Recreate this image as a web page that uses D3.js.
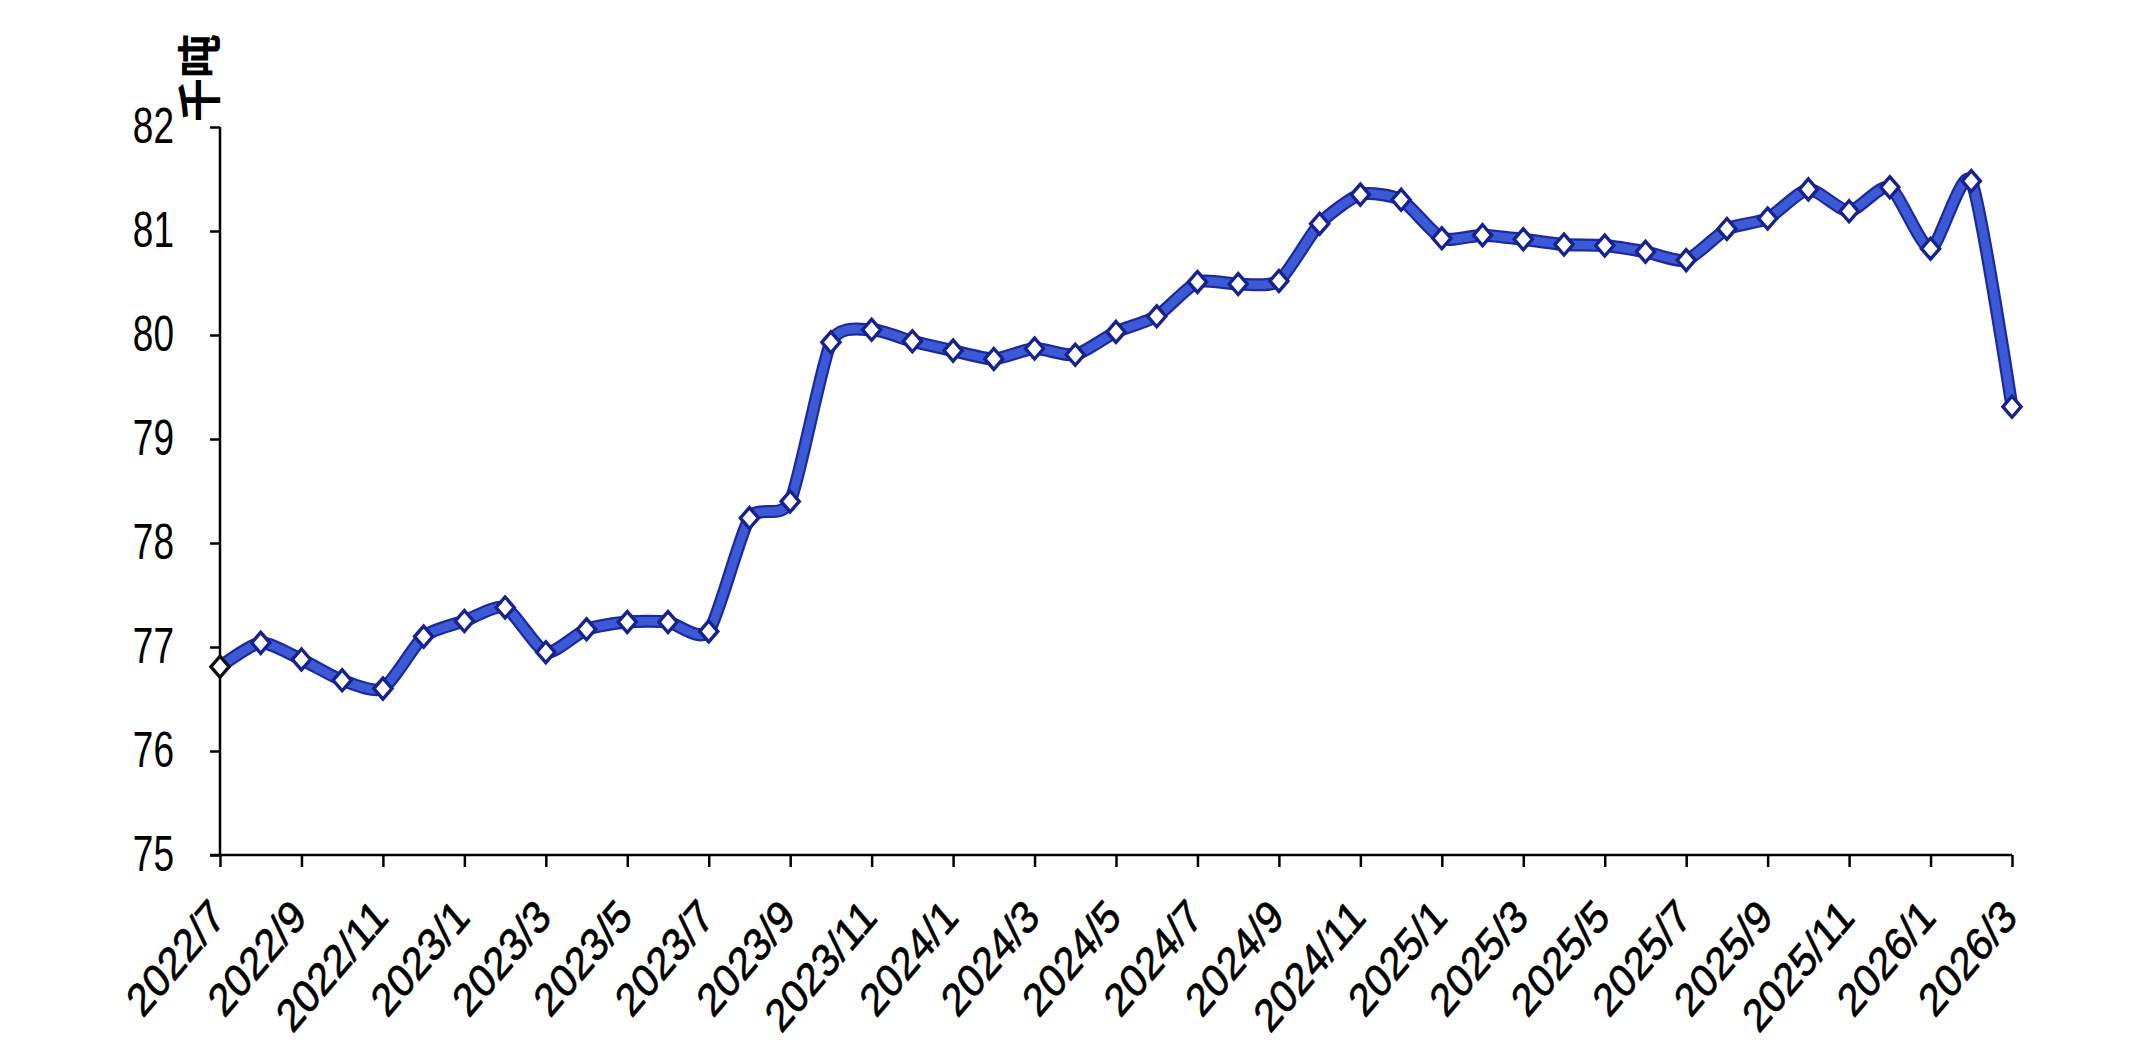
<!DOCTYPE html>
<html>
<head>
<meta charset="utf-8">
<script src="https://cdn.jsdelivr.net/npm/d3@7"></script>
<style>
  html, body { margin: 0; padding: 0; background: #ffffff; }
  svg { display: block; }
</style>
</head>
<body>
<svg id="chart" width="2150" height="1064"></svg>
<script>
// ---- data ----
const months = [
  "2022/7","2022/8","2022/9","2022/10","2022/11","2022/12",
  "2023/1","2023/2","2023/3","2023/4","2023/5","2023/6","2023/7","2023/8","2023/9","2023/10","2023/11","2023/12",
  "2024/1","2024/2","2024/3","2024/4","2024/5","2024/6","2024/7","2024/8","2024/9","2024/10","2024/11","2024/12",
  "2025/1","2025/2","2025/3","2025/4","2025/5","2025/6","2025/7","2025/8","2025/9","2025/10","2025/11","2025/12",
  "2026/1","2026/2","2026/3"
];
const values = [
  76.81, 77.04, 76.88, 76.68, 76.60, 77.10,
  77.25, 77.38, 76.95, 77.17, 77.24, 77.24, 77.15, 78.24, 78.40, 79.93, 80.05, 79.94,
  79.85, 79.77, 79.87, 79.81, 80.03, 80.18, 80.51, 80.49, 80.52, 81.07, 81.35, 81.30,
  80.93, 80.96, 80.92, 80.87, 80.86, 80.80, 80.72, 81.02, 81.12, 81.40, 81.19, 81.42,
  80.83, 81.48, 79.31
];
const xTickLabels = months.filter((m, i) => i % 2 === 0);
const yTicks = [75, 76, 77, 78, 79, 80, 81, 82];
const yDomain = [75, 82];
const unitLabel = "千吨";

// ---- layout ----
const svg = d3.select("#chart");
const mLeft = 220, mRight = 2012, mTop = 127, mBottom = 855;

const x = d3.scalePoint().domain(months).range([mLeft, mRight]);
const y = d3.scaleLinear().domain(yDomain).range([mBottom, mTop]);

const latin = "'Liberation Sans', Arial, sans-serif";

// y axis
const yAxis = svg.append("g")
  .attr("transform", `translate(${mLeft},0)`)
  .call(d3.axisLeft(y).tickValues(yTicks).tickSize(10).tickPadding(36).tickFormat(d3.format("d")));
yAxis.select(".domain").attr("stroke", "#000").attr("stroke-width", 2.5).attr("d", `M0,${mTop}V${mBottom}`);
yAxis.selectAll(".tick line").attr("stroke", "#000").attr("stroke-width", 2.5);
yAxis.selectAll(".tick text")
  .attr("fill", "#000")
  .style("font-family", latin)
  .style("font-size", "37px")
  .attr("transform", "scale(1,1.35)");

// x axis
const xAxis = svg.append("g")
  .attr("transform", `translate(0,${mBottom})`)
  .call(d3.axisBottom(x).tickValues(xTickLabels).tickSize(12));
xAxis.select(".domain").attr("stroke", "#000").attr("stroke-width", 2.5).attr("d", `M${mLeft - 10},0H${mRight}`);
xAxis.selectAll(".tick line").attr("stroke", "#000").attr("stroke-width", 2.5);
xAxis.selectAll(".tick text")
  .attr("fill", "#000")
  .attr("x", 0).attr("y", 0).attr("dy", "0.35em")
  .attr("text-anchor", "end")
  .style("font-family", latin)
  .style("font-size", "39px")
  .style("stroke", "#000")
  .style("stroke-width", 0.6)
  .attr("transform", "translate(-3,53) scale(1,1.18) rotate(-45)");

// unit label
svg.append("text")
  .attr("transform", "translate(197,78) rotate(-90)")
  .attr("text-anchor", "middle")
  .attr("dominant-baseline", "central")
  .style("font-family", "'Noto Sans CJK SC', sans-serif")
  .style("font-weight", "bold")
  .style("font-size", "44px")
  .attr("fill", "#000")
  .text(unitLabel);

// line
const data = months.map((m, i) => ({ m, v: values[i] }));
const line = d3.line()
  .x(d => x(d.m))
  .y(d => y(d.v))
  .curve(d3.curveCardinal.tension(0.35));

svg.append("path")
  .datum(data)
  .attr("d", line)
  .attr("fill", "none")
  .attr("stroke", "#1b2a9e")
  .attr("stroke-width", 13)
  .attr("stroke-linejoin", "round")
  .attr("stroke-linecap", "round");
svg.append("path")
  .datum(data)
  .attr("d", line)
  .attr("fill", "none")
  .attr("stroke", "#3d5ad6")
  .attr("stroke-width", 8.5)
  .attr("stroke-linejoin", "round")
  .attr("stroke-linecap", "round");

// markers
const diamond = d3.symbol().type(d3.symbolDiamond2).size(210);
svg.append("g").selectAll("path")
  .data(data)
  .join("path")
  .attr("d", diamond)
  .attr("transform", d => `translate(${x(d.m)},${y(d.v)}) scale(1,1.15)`)
  .attr("fill", "#ffffff")
  .attr("stroke", (d, i) => i === 0 ? "#111111" : "#16238f")
  .attr("stroke-width", 3.2);
</script>
</body>
</html>
